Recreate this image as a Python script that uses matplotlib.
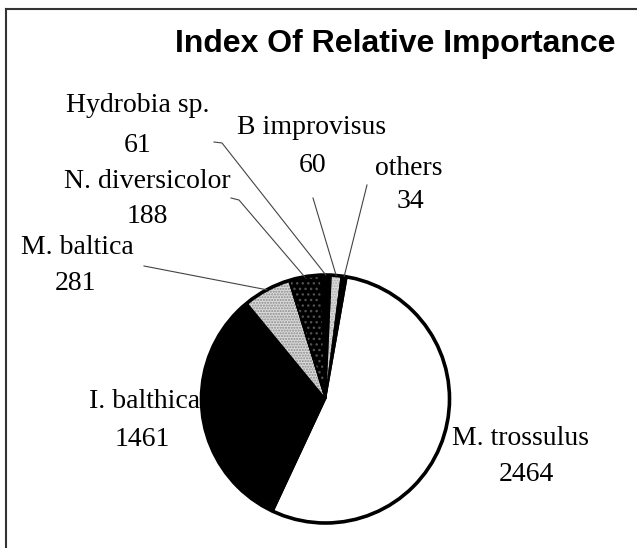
import matplotlib
matplotlib.use("Agg")
import matplotlib.pyplot as plt
from matplotlib.patches import Wedge, Circle
from matplotlib.lines import Line2D
import numpy as np

# ---- data ----
categories = ["M. trossulus", "I. balthica", "M. baltica", "N. diversicolor",
              "Hydrobia sp.", "B improvisus", "others"]
values = [2464, 1461, 281, 188, 61, 60, 34]
title = "Index Of Relative Importance"

W, H = 637, 548
fig = plt.figure(figsize=(W / 100, H / 100), dpi=100)
ax = fig.add_axes([0, 0, 1, 1])

def Y(py):
    return H - py

cx, cy, R = 325.5, Y(399), 124
face = ["white", "black", "#dadada", "black", "black", "#dcdcdc", "black"]
wedges, _ = ax.pie(values, startangle=80, counterclock=False, center=(cx, cy),
                   radius=R, colors=face,
                   wedgeprops=dict(edgecolor="black", linewidth=1.0))

# texture overlays
hatch_spec = {2: ("......", "#8a8a8a"), 3: ("...", "#505050"), 5: ("......", "#aaaaaa")}
for i, (h, hc) in hatch_spec.items():
    w = wedges[i]
    ov = Wedge((cx, cy), R, w.theta1, w.theta2, facecolor="none",
               edgecolor=hc, linewidth=0, hatch=h, zorder=w.get_zorder() + 0.1)
    ax.add_patch(ov)
    ax.add_patch(Wedge((cx, cy), R, w.theta1, w.theta2, facecolor="none",
                       edgecolor="black", linewidth=1.0, zorder=w.get_zorder() + 0.2))

ax.add_patch(Circle((cx, cy), R, facecolor="none", edgecolor="black",
                    linewidth=2.6, zorder=5))

ax.set_xlim(0, W)
ax.set_ylim(0, H)
ax.set_aspect("equal")
ax.axis("off")

serif = dict(family="Liberation Serif", fontsize=20, color="black")

# label layout: (name line center x, name baseline, value center x, value baseline)
label_pos = {
    "M. trossulus": (521, 445, 526, 481),
    "I. balthica": (145, 408, 142, 446),
    "M. baltica": (77, 254, 75, 290),
    "N. diversicolor": (147, 188, 147, 223),
    "Hydrobia sp.": (138, 112, 138, 152),
    "B improvisus": (312, 134, 313, 172),
    "others": (409, 175, 410, 208),
}
for name, v in zip(categories, values):
    x1, b1, x2, b2 = label_pos[name]
    ax.text(x1, Y(b1), name, ha="center", va="baseline", **serif)
    ax.text(x2, Y(b2), str(v), ha="center", va="baseline", **serif)

# leader lines (start points near labels, end at wedge mid-arc)
leader_start = {
    "M. baltica": [(144, 266)],
    "N. diversicolor": [(231, 198), (239, 200)],
    "Hydrobia sp.": [(214, 142), (222, 143)],
    "B improvisus": [(313, 198)],
    "others": [(367, 185)],
}
for i, name in enumerate(categories):
    if name not in leader_start:
        continue
    w = wedges[i]
    th = np.deg2rad((w.theta1 + w.theta2) / 2)
    ex, ey = cx + R * np.cos(th), cy + R * np.sin(th)
    pts = [(x, Y(y)) for x, y in leader_start[name]] + [(ex, ey)]
    xs, ys = zip(*pts)
    ax.plot(xs, ys, color="#444444", linewidth=0.8, zorder=6)

# title
fig.text(395 / W, 1 - 52 / H, title, ha="center", va="baseline",
         family="Liberation Sans", fontweight="bold", fontsize=23, color="black")

# frame (top and left edges)
fig.add_artist(Line2D([6 / W, 1], [1 - 9 / H, 1 - 9 / H], transform=fig.transFigure,
                      color="#333333", linewidth=1.5))
fig.add_artist(Line2D([6 / W, 6 / W], [0, 1 - 9 / H], transform=fig.transFigure,
                      color="#333333", linewidth=1.5))

fig.savefig("out.png", dpi=100, facecolor="white")
